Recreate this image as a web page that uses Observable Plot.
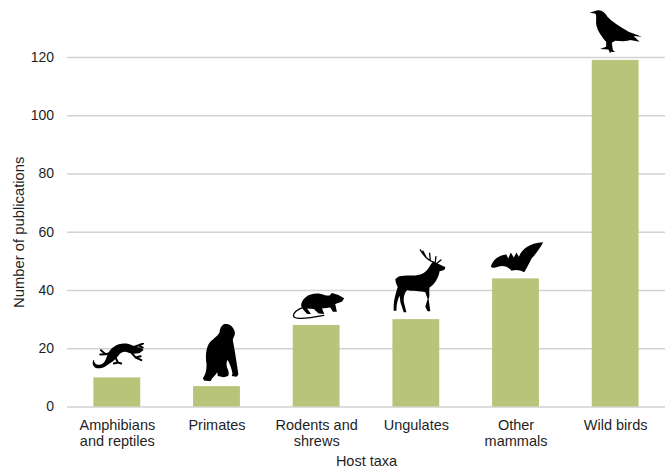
<!DOCTYPE html>
<html>
<head>
<meta charset="utf-8">
<script src="https://cdn.jsdelivr.net/npm/d3@7"></script>
<script src="https://cdn.jsdelivr.net/npm/@observablehq/plot@0.6"></script>
<style>
html,body{margin:0;padding:0;background:#fff;}
svg{display:block;}
</style>
</head>
<body>
<div id="chart"></div>
<script>
const categories = ["Amphibians\nand reptiles","Primates","Rodents and\nshrews","Ungulates","Other\nmammals","Wild birds"];
const publications = [10,7,28,30,44,119];
const yTicks = [0,20,40,60,80,100,120];

const barColor = "#b7c47a";
const gridColor = "#d2d2d2";
const textColor = "#1f1f1f";
const fontFamily = "'Liberation Sans', Arial, sans-serif";

// Silhouette outlines, one per host taxon
const lizardFill = "M140 372C150 350 172 335 198 338C215 341 225 350 240 350L250 357L238 366C225 369 212 370 203 365C193 360 182 362 174 374C166 387 150 397 135 406C120 416 100 415 96 400C95 394 96 390 99 386C101 398 108 405 120 401C132 397 136 386 140 372Z";
const lizardLine = "M150 366L135 370L121 358M135 370L119 371M165 380L172 395L182 398M172 395L160 398M215 350L235 343L248 338M235 343L247 350M212 364L226 380L243 388M226 380L241 376";
const apeFill = "M492 279C505 276 520 288 523 303C525 315 518 318 517 328C522 350 526 380 530 405L534 432L528 438L514 436L516 428C514 415 508 400 502 388C498 392 497 400 500 412C505 420 506 430 503 436L490 440L472 436L470 425C465 435 455 440 450 452L430 450L427 442C435 432 438 420 438 400C434 380 436 355 444 340C455 325 470 318 477 305C478 292 484 282 492 279Z";
const ratFill = "M722 228C722 205 745 188 775 190C788 192 798 198 808 196L815 189L825 192L835 195L852 205L845 215L825 222L830 245L818 245L810 232L785 235L792 252L775 250L760 237L740 235L752 252L740 252L728 238Z";
const ratLine = "M735 230C710 235 695 250 700 260C710 270 760 262 790 256";
const deerFill = "M75 835L85 828C105 822 130 828 150 822C165 816 175 805 182 790L190 783L205 790L226 800L222 808L208 812C205 830 195 850 178 860C175 875 180 885 175 895L180 932L172 932L165 918L172 895L165 875C150 870 125 872 110 868C100 880 98 895 102 910L108 935L100 935L90 905L88 885C82 895 78 910 78 930L70 930C68 905 75 880 82 860C78 850 75 845 75 835Z";
const deerLine = "M190 785C175 780 160 765 150 748M168 772L158 752M180 780L178 758M195 785L197 768M200 788L212 778";
const batFill = "M363 800C370 780 385 765 410 763L415 775L423 757L432 772L440 757L447 770C455 750 475 728 520 726C510 745 495 765 485 775C478 790 470 805 463 817C450 810 440 808 425 812C415 800 400 795 385 800C375 803 368 805 363 800Z";
const ravenFill = "M658 38L680 31C695 28 705 38 712 50C725 65 750 80 775 95L815 110L790 108L808 125L780 120C770 125 750 123 735 122L725 128L728 150L735 156L722 155L720 160L715 148L690 147L708 140L708 125C695 110 680 90 678 70C678 55 680 45 675 40Z";

const silhouettes = [
  {category:categories[0], value:publications[0], box:"95 335 157 80", fill:lizardFill, line:lizardLine, lw:6, w:52, h:26.5, dx:1, dy:-22},
  {category:categories[1], value:publications[1], box:"425 278 110 175", fill:apeFill, line:"", lw:0, w:36.5, h:58, dx:3.5, dy:-34},
  {category:categories[2], value:publications[2], box:"695 187 157 81", fill:ratFill, line:ratLine, lw:4, w:52, h:27, dx:1.5, dy:-19.5},
  {category:categories[3], value:publications[3], box:"68 745 158 193", fill:deerFill, line:deerLine, lw:4, w:52.5, h:64.5, dx:3, dy:-38.5},
  {category:categories[4], value:publications[4], box:"363 723 157 94", fill:batFill, line:"", lw:0, w:52.5, h:31, dx:1, dy:-22},
  {category:categories[5], value:publications[5], box:"658 28 157 132", fill:ravenFill, line:"", lw:0, w:52.5, h:44, dx:0, dy:-29}
];

function uri(s){
  const svg = `<svg xmlns="http://www.w3.org/2000/svg" viewBox="${s.box}"><path d="${s.fill}" fill="#000"/>` +
    (s.line ? `<path d="${s.line}" fill="none" stroke="#000" stroke-width="${s.lw}" stroke-linecap="round" stroke-linejoin="round"/>` : "") + `</svg>`;
  return "data:image/svg+xml," + encodeURIComponent(svg);
}

const rows = categories.map((c,i)=>({category:c, value:publications[i]}));

const chart = Plot.plot({
  width:672, height:471,
  marginLeft:67, marginRight:7, marginTop:57, marginBottom:64.5,
  style:{fontFamily, background:"#fff", overflow:"visible"},
  x:{domain:categories, paddingInner:0.53, paddingOuter:0.265, align:0.5, round:false},
  y:{domain:[0,120]},
  marks:[
    Plot.ruleY(yTicks,{stroke:gridColor, strokeWidth:1.5}),
    Plot.barY(rows,{x:"category", y:"value", fill:barColor}),
    Plot.axisY({ticks:yTicks, tickSize:0, tickPadding:13.5, fontSize:14, color:textColor, label:null}),
    Plot.axisY({ticks:[], fontSize:14.8, color:textColor, label:"Number of publications", labelAnchor:"center", labelArrow:"none", labelOffset:54.5}),
    Plot.axisX({tickSize:0, tickPadding:11, fontSize:14.5, color:textColor, lineHeight:1.12, label:"Host taxa", labelAnchor:"center", labelArrow:"none", labelOffset:59}),
    ...silhouettes.map(s=>Plot.image([s],{x:"category", y:"value", src:uri, width:s.w, height:s.h, dx:s.dx, dy:s.dy, preserveAspectRatio:"none"}))
  ]
});
document.getElementById("chart").appendChild(chart);
</script>
</body>
</html>
